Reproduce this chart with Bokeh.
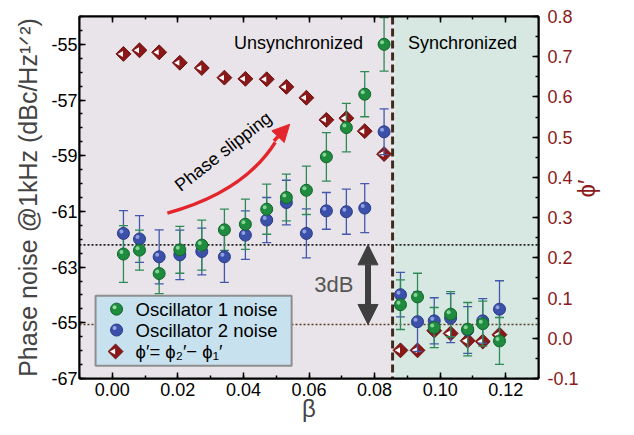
import numpy as np
from math import pi
from bokeh.plotting import figure
from bokeh.models import (Range1d, LinearAxis, FixedTicker, PrintfTickFormatter, CustomJSTickFormatter,
                          BoxAnnotation, Span, Label, Arrow, NormalHead, ColumnDataSource)
from bokeh.embed import file_html
from bokeh.resources import INLINE

# ---------------- data ----------------
beta = [0.0034, 0.0083, 0.0143, 0.0206, 0.0273, 0.0342, 0.0406, 0.0471, 0.0531,
        0.0592, 0.0653, 0.0714, 0.0770, 0.0829,
        0.0879, 0.0931, 0.0982, 0.1032, 0.1084, 0.1130, 0.1181]
osc1_noise = [-62.53, -62.39, -63.23, -62.38, -62.21, -61.66, -61.46, -60.92, -60.50,
              -60.24, -59.04, -57.99, -56.79, -55.00,
              -64.35, -64.07, -65.17, -64.69, -65.23, -65.03, -65.65]
osc1_err = [1.02, 0.72, 0.72, 0.84, 0.90, 0.74, 0.90, 0.90, 0.84, 0.87, 0.87, 0.87, 0.81, 0.96,
            0.89, 0.85, 0.72, 0.81, 0.96, 0.81, 0.84]
osc2_noise = [-61.79, -61.99, -62.63, -62.56, -62.44, -62.63, -61.85, -61.31, -60.68,
              -61.79, -60.98, -61.01, -60.88, -58.14,
              -63.99, -64.96, -64.93, -64.83, -65.26, -64.93, -64.51]
osc2_err = [0.82, 0.84, 0.97, 0.89, 0.84, 0.92, 0.87, 0.81, 0.80, 0.88, 0.66, 0.81, 0.88, 0.82,
            0.80, 1.07, 0.83, 0.88, 0.84, 0.80, 1.02]
phi_prime = [0.707, 0.716, 0.711, 0.685, 0.672, 0.648, 0.645, 0.644, 0.625, 0.598,
             0.543, 0.547, 0.515, 0.458,
             -0.030, -0.030, 0.019, 0.012, -0.006, -0.008, 0.009]

x_ticks = [0.00, 0.02, 0.04, 0.06, 0.08, 0.10, 0.12]
y_left_ticks = [-67, -65, -63, -61, -59, -57, -55]
y_right_ticks = [-0.1, 0.0, 0.1, 0.2, 0.3, 0.4, 0.5, 0.6, 0.7, 0.8]
sync_beta = 0.0855          # locking threshold (dashed line)
noise_unsync_level = -62.2  # dotted reference levels
noise_sync_level = -65.06

legend_labels = ["Oscillator 1 noise", "Oscillator 2 noise",
                 "\u03d5\u2032= \u03d5\u2082\u2032\u2212 \u03d5\u2081\u2032"]

# ---------------- figure ----------------
X0, X1 = -0.01, 0.13
Y0, Y1 = -67, -54
FW, FH = 459, 362
px_x = (X1 - X0) / FW
px_y = (Y1 - Y0) / FH

p = figure(width=618, height=427, x_range=Range1d(X0, X1), y_range=Range1d(Y0, Y1),
           output_backend="svg", toolbar_location=None,
           min_border_left=79, min_border_right=80, min_border_top=16, min_border_bottom=49)
p.extra_y_ranges = {"phi": Range1d(-0.1, 0.8)}
p.grid.visible = False
p.outline_line_color = "black"
p.outline_line_width = 2
p.background_fill_color = "#E9E4E9"
p.border_fill_color = "white"

FONT = "Liberation Sans"


def style_axis(ax, label_color="black"):
    ax.axis_line_width = 2
    ax.axis_line_color = "black"
    ax.major_tick_in = 6
    ax.major_tick_out = 0
    ax.minor_tick_in = 3
    ax.minor_tick_out = 0
    ax.major_tick_line_width = 1.5
    ax.minor_tick_line_width = 1.5
    ax.major_tick_line_color = "black"
    ax.minor_tick_line_color = "black"
    ax.major_label_text_font = FONT
    ax.major_label_text_font_size = "18px"
    ax.major_label_text_color = label_color
    ax.axis_label_text_font = FONT
    ax.axis_label_text_font_style = "normal"


x_minor = [round(-0.01 + 0.01 * i, 2) for i in range(15)]
yl_minor = [-67 + 0.5 * i for i in range(27)]
yr_minor = [round(-0.1 + 0.05 * i, 2) for i in range(19)]

xa = p.xaxis[0]
xa.ticker = FixedTicker(ticks=x_ticks, minor_ticks=x_minor)
xa.formatter = PrintfTickFormatter(format="%.2f")
style_axis(xa)
xa.major_label_standoff = 4
xa.axis_label = "\u03b2"
xa.axis_label_text_font_size = "24px"
xa.axis_label_standoff = -4

ya = p.yaxis[0]
ya.ticker = FixedTicker(ticks=y_left_ticks, minor_ticks=yl_minor)
ya.formatter = PrintfTickFormatter(format="%d")
style_axis(ya)
ya.major_label_standoff = 2
ya.axis_label = "Phase noise @1kHz (dBc/Hz\u00b9\u141f\u00b2)"
ya.axis_label_text_font_size = "25px"
ya.axis_label_standoff = 6

top = LinearAxis(ticker=FixedTicker(ticks=x_ticks, minor_ticks=x_minor),
                 formatter=CustomJSTickFormatter(code="return ''"))
style_axis(top)
top.major_label_text_font_size = "1px"
top.major_label_standoff = 0
p.add_layout(top, "above")

right = LinearAxis(y_range_name="phi", ticker=FixedTicker(ticks=y_right_ticks, minor_ticks=yr_minor),
                   formatter=PrintfTickFormatter(format="%.1f"))
style_axis(right, "#8B1A1A")
right.major_label_standoff = 9
right.axis_label = "\u03d5\u2032"
right.axis_label_text_font_size = "24px"
right.axis_label_text_color = "#8B1A1A"
right.axis_label_orientation = pi / 2
right.axis_label_standoff = 5
p.add_layout(right, "right")

# ---------------- background regions & reference lines ----------------
p.add_layout(BoxAnnotation(left=X0, right=sync_beta + 0.0004, fill_color="#E9E4E9", fill_alpha=1,
                           line_alpha=0, level="underlay"))
p.add_layout(BoxAnnotation(left=sync_beta + 0.0004, right=X1, fill_color="#D6E8E1", fill_alpha=1,
                           line_alpha=0, level="underlay"))
p.add_layout(Span(location=sync_beta + 0.0004, dimension="height", line_color="#F4F8F8",
                  line_width=1, level="underlay"))
p.add_layout(Span(location=noise_unsync_level, dimension="width", line_color="#222222",
                  line_width=1.6, line_dash="2 2", level="underlay"))
p.add_layout(Span(location=noise_sync_level, dimension="width", line_color="#5A3E2B",
                  line_width=1.6, line_dash="2 2", level="underlay"))
p.add_layout(Span(location=sync_beta, dimension="height", line_color="#3D2B1F",
                  line_width=3, line_dash="8 4", level="underlay"))

# ---------------- data sources ----------------
o1 = np.array(osc1_noise); e1 = np.array(osc1_err)
o2 = np.array(osc2_noise); e2 = np.array(osc2_err)
b = np.array(beta)
src = ColumnDataSource(dict(
    beta=b, beta_hl=b - 2 * px_x, beta_tri=b - 2.2 * px_x,
    osc1=o1, osc1_lo=o1 - e1, osc1_hi=o1 + e1, osc1_hl=o1 + 2 * px_y,
    osc2=o2, osc2_lo=o2 - e2, osc2_hi=o2 + e2, osc2_hl=o2 + 2 * px_y,
    phi=np.array(phi_prime)))

RED = "#8A1818"
GREEN = "#1E8B3E"; GREEN_BAR = "#2E8B57"
BLUE = "#3B50A8"; BLUE_BAR = "#4357AC"

# phase difference diamonds (right axis)
p.scatter("beta", "phi", source=src, y_range_name="phi", marker="square", angle=pi / 4,
          size=10.5, fill_color=RED, line_color="#6A0F0F", line_width=1)
p.scatter("beta_tri", "phi", source=src, y_range_name="phi", marker="triangle", angle=pi / 2,
          size=6, fill_color="white", line_alpha=0)

# error bars
for lo, hi, col in (("osc2_lo", "osc2_hi", BLUE_BAR), ("osc1_lo", "osc1_hi", GREEN_BAR)):
    p.segment(x0="beta", y0=lo, x1="beta", y1=hi, source=src, line_color=col, line_width=1.3)
    p.scatter("beta", lo, source=src, marker="dash", size=9, line_color=col, line_width=1.3)
    p.scatter("beta", hi, source=src, marker="dash", size=9, line_color=col, line_width=1.3)

# spheres
p.scatter("beta", "osc2", source=src, marker="circle", size=12, fill_color=BLUE, line_color="#2A3B86", line_width=1)
p.scatter("beta_hl", "osc2_hl", source=src, marker="circle", size=4, fill_color="#9AA8E6", line_alpha=0, fill_alpha=0.9)
p.scatter("beta", "osc1", source=src, marker="circle", size=12, fill_color=GREEN, line_color="#11662B", line_width=1)
p.scatter("beta_hl", "osc1_hl", source=src, marker="circle", size=4, fill_color="#8FDC9F", line_alpha=0, fill_alpha=0.9)

# ---------------- annotations ----------------
ARROW_RED = "#E2262C"
p.quadratic(x0=[0.0168], y0=[-61.06], x1=[0.0497], y1=[-58.52], cx=[0.0401], cy=[-60.31],
            line_color=ARROW_RED, line_width=3.5)
p.add_layout(Arrow(end=NormalHead(size=17, fill_color=ARROW_RED, line_color=ARROW_RED),
                   x_start=0.0493, y_start=-58.47, x_end=0.0541, y_end=-57.87,
                   line_color=ARROW_RED, line_width=3.5))
p.add_layout(Label(x=0.0338, y=-58.85, text="Phase slipping", angle=38 * pi / 180,
                   text_align="center", text_baseline="middle", text_font=FONT,
                   text_font_size="18px", text_color="black"))

p.add_layout(Arrow(start=NormalHead(size=20, fill_color="#3F3F3F", line_color="#3F3F3F"),
                   end=NormalHead(size=20, fill_color="#3F3F3F", line_color="#3F3F3F"),
                   x_start=0.078, y_start=noise_sync_level, x_end=0.078, y_end=noise_unsync_level,
                   line_color="#3F3F3F", line_width=6))
p.add_layout(Label(x=0.0676, y=-63.64, text="3dB", text_align="center", text_baseline="middle",
                   text_font=FONT, text_font_size="22px", text_color="#555555"))

p.add_layout(Label(x=0.0765, y=-54.95, text="Unsynchronized", text_align="right", text_baseline="middle",
                   text_font=FONT, text_font_size="18px", text_color="black"))
p.add_layout(Label(x=0.0902, y=-54.95, text="Synchronized", text_align="left", text_baseline="middle",
                   text_font=FONT, text_font_size="18px", text_color="black"))

# ---------------- legend (drawn by hand) ----------------
p.add_layout(BoxAnnotation(left=-0.0051, right=0.0547, top=-64.03, bottom=-66.54,
                           fill_color="#C7E1EF", fill_alpha=1, line_color="#8E8E8E", line_width=2,
                           line_alpha=1))
leg_x = 0.0013
leg_y = [-64.51, -65.26, -66.03]
r = p.scatter([leg_x], [leg_y[0]], marker="circle", size=12, fill_color=GREEN, line_color="#11662B")
r.level = "overlay"
r = p.scatter([leg_x - 2 * px_x], [leg_y[0] + 2 * px_y], marker="circle", size=4, fill_color="#8FDC9F", line_alpha=0)
r.level = "overlay"
r = p.scatter([leg_x], [leg_y[1]], marker="circle", size=12, fill_color=BLUE, line_color="#2A3B86")
r.level = "overlay"
r = p.scatter([leg_x - 2 * px_x], [leg_y[1] + 2 * px_y], marker="circle", size=4, fill_color="#9AA8E6", line_alpha=0)
r.level = "overlay"
r = p.scatter([leg_x - 0.0003], [leg_y[2]], marker="square", angle=pi / 4, size=10.5, fill_color=RED, line_color="#6A0F0F")
r.level = "overlay"
r = p.scatter([leg_x - 0.0003 - 2.2 * px_x], [leg_y[2]], marker="triangle", angle=pi / 2, size=6, fill_color="white", line_alpha=0)
r.level = "overlay"
for txt, yy in zip(legend_labels, leg_y):
    lab = Label(x=0.0071, y=yy, text=txt, text_align="left", text_baseline="middle",
                text_font=FONT, text_font_size="18.5px", text_color="black")
    lab.level = "overlay"
    p.add_layout(lab)

open("out.html", "w").write(file_html(p, INLINE))
